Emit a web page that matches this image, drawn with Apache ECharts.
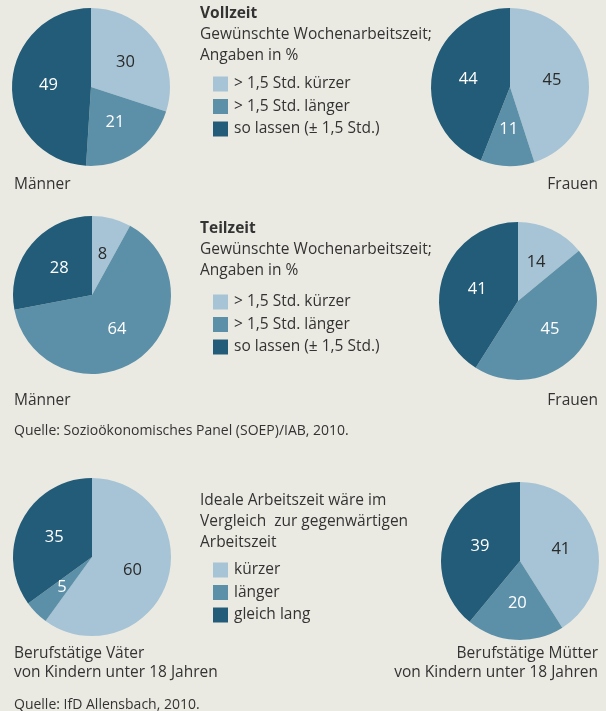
<!DOCTYPE html>
<html><head><meta charset="utf-8">
<script src="https://cdn.jsdelivr.net/npm/echarts@6/dist/echarts.min.js"></script>
<style>html,body{margin:0;padding:0;background:#EBEAE2;}#c{width:606px;height:711px;}</style>
</head><body><div id="c"></div>
<script>
// ---- data ----
const catsStd = ['> 1,5 Std. kürzer', '> 1,5 Std. länger', 'so lassen (± 1,5 Std.)'];
const catsIdeal = ['kürzer', 'länger', 'gleich lang'];
const vollzeitMaenner = [30, 21, 49];
const vollzeitFrauen = [45, 11, 44];
const teilzeitMaenner = [8, 64, 28];
const teilzeitFrauen = [14, 45, 41];
const vaeter = [60, 5, 35];
const muetter = [41, 20, 39];

const colors = ['#A6C4D5', '#5C90A8', '#235C78'];
const labelColors = ['#2a2a2a', '#ffffff', '#ffffff'];
const FONT = 'Open Sans';
const TXT = '#333333';
const FS = 15.5;

function pieSeries(values, names, center) {
  return {
    type: 'pie',
    center: center,
    radius: 79,
    startAngle: 90,
    clockwise: true,
    silent: true,
    avoidLabelOverlap: false,
    label: { show: true, position: 'inside', formatter: '{c}', fontFamily: FONT, fontSize: 16.5 },
    labelLine: { show: false },
    itemStyle: { borderWidth: 0 },
    data: values.map((v, i) => ({
      value: v, name: names[i],
      itemStyle: { color: colors[i] },
      label: { color: labelColors[i] }
    }))
  };
}

function legend(names, top) {
  return {
    data: names, orient: 'vertical', left: 213, top: top,
    icon: 'rect', itemWidth: 15, itemHeight: 15, itemGap: 6.5,
    selectedMode: false, padding: 0,
    textStyle: { fontFamily: FONT, fontSize: FS, lineHeight: 15, color: TXT, padding: [0, 0, 0, 1] }
  };
}

function t(x, y, s, extra) {
  const e = { type: 'text', x: x, y: y,
    style: { text: s, fontFamily: FONT, fontSize: FS, fill: TXT, textVerticalAlign: 'middle', textAlign: 'left' } };
  Object.assign(e.style, extra || {});
  return e;
}

const chart = echarts.init(document.getElementById('c'));
chart.setOption({
  backgroundColor: '#EBEAE2',
  animation: false,
  legend: [legend(catsStd, 76), legend(catsStd, 294), legend(catsIdeal, 562)],
  series: [
    pieSeries(vollzeitMaenner, catsStd, [91, 87]),
    pieSeries(vollzeitFrauen, catsStd, [510, 87]),
    pieSeries(teilzeitMaenner, catsStd, [92, 295]),
    pieSeries(teilzeitFrauen, catsStd, [518, 301]),
    pieSeries(vaeter, catsIdeal, [92, 557]),
    pieSeries(muetter, catsIdeal, [520, 561])
  ],
  graphic: [
    t(200, 14, 'Vollzeit', { fontWeight: 'bold' }),
    t(200, 35, 'Gewünschte Wochenarbeitszeit;'),
    t(200, 56, 'Angaben in %'),
    t(14, 185, 'Männer'),
    t(598, 185, 'Frauen', { textAlign: 'right' }),
    t(200, 229, 'Teilzeit', { fontWeight: 'bold' }),
    t(200, 250, 'Gewünschte Wochenarbeitszeit;'),
    t(200, 271, 'Angaben in %'),
    t(14, 401, 'Männer'),
    t(598, 401, 'Frauen', { textAlign: 'right' }),
    t(14, 431, 'Quelle: Sozioökonomisches Panel (SOEP)/IAB, 2010.', { fontSize: 14 }),
    t(200, 501, 'Ideale Arbeitszeit wäre im'),
    t(200, 522, 'Vergleich  zur gegenwärtigen'),
    t(200, 543, 'Arbeitszeit'),
    t(14, 654, 'Berufstätige Väter'),
    t(14, 673, 'von Kindern unter 18 Jahren'),
    t(598, 654, 'Berufstätige Mütter', { textAlign: 'right' }),
    t(598, 673, 'von Kindern unter 18 Jahren', { textAlign: 'right' }),
    t(14, 705, 'Quelle: IfD Allensbach, 2010.', { fontSize: 14 })
  ]
});
</script></body></html>
